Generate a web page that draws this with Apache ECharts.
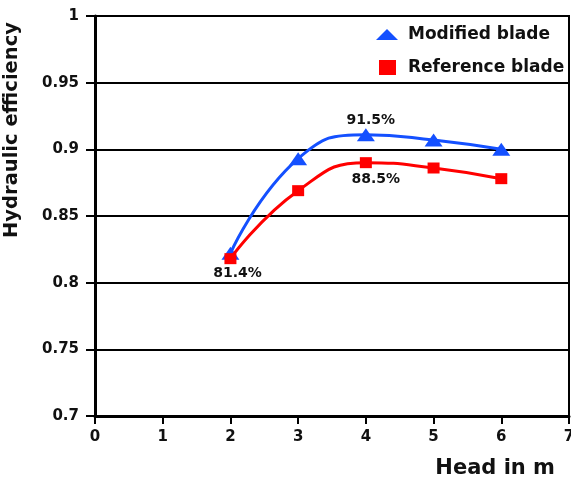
<!DOCTYPE html>
<html><head><meta charset="utf-8">
<script src="https://cdn.jsdelivr.net/npm/echarts@6/dist/echarts.min.js"></script>
<style>html,body{margin:0;padding:0;background:#fff}#c{width:571px;height:481px}</style>
</head><body><div id="c"></div>
<script>
var heads = [2, 3, 4, 5, 6];
var modified = [0.822, 0.893, 0.911, 0.907, 0.900];
var reference = [0.818, 0.869, 0.890, 0.886, 0.878];
var modifiedLabels = [null, null, '91.5%', null, null];
var referenceLabels = ['81.4%', null, '88.5%', null, null];

var FONT = 'DejaVu Sans';
var BLUE = '#1450ff', RED = '#ff0000';
var labelOpts = {
  modified: { 2: { position: 'top', distance: 1, offset: [5, 0] } },
  reference: { 0: { position: 'bottom', distance: 2, offset: [7, 0] },
               2: { position: 'bottom', distance: 4, offset: [10, 0] } }
};
var lblStyle = { fontFamily: FONT, fontWeight: 'bold', fontSize: 14, color: '#111' };
function build(vals, labels, opts) {
  return vals.map(function (v, i) {
    var d = { value: [heads[i], v] };
    if (labels[i]) {
      d.label = Object.assign({ show: true, formatter: labels[i] }, lblStyle, opts[i]);
    }
    return d;
  });
}
var legendText = { fontFamily: FONT, fontWeight: 'bold', fontSize: 17, color: '#111', padding: [0, 0, 0, 5] };

var chart = echarts.init(document.getElementById('c'));
chart.setOption({
  animation: false,
  grid: { left: 95, right: 2, top: 16, bottom: 65, show: true, borderColor: '#000', borderWidth: 2, outerBoundsMode: 'none', containLabel: false },
  xAxis: {
    type: 'value', min: 0, max: 7, interval: 1,
    axisLine: { lineStyle: { color: '#000', width: 3 } },
    axisTick: { show: true, length: 8, lineStyle: { color: '#000', width: 2 } },
    axisLabel: { fontFamily: FONT, fontWeight: 'bold', fontSize: 15, color: '#111', margin: 14 },
    splitLine: { show: false }
  },
  yAxis: {
    type: 'value', min: 0.7, max: 1, interval: 0.05,
    axisLine: { show: true, lineStyle: { color: '#000', width: 3 } },
    axisTick: { show: true, length: 9, lineStyle: { color: '#000', width: 2 } },
    axisLabel: { fontFamily: FONT, fontWeight: 'bold', fontSize: 15, color: '#111', margin: 16,
      formatter: function (v) { return String(+v.toFixed(2)); } },
    splitLine: { show: true, lineStyle: { color: '#000', width: 2 } }
  },
  legend: [{
    left: 376, top: 26, padding: 0, itemWidth: 22, itemHeight: 11,
    textStyle: legendText,
    data: [{ name: 'Modified blade', icon: 'triangle' }]
  }, {
    left: 379, top: 59, padding: 0, itemWidth: 17, itemHeight: 15,
    textStyle: Object.assign({}, legendText, { padding: [0, 0, 0, 7] }),
    data: [{ name: 'Reference blade', icon: 'rect' }]
  }],
  graphic: [{
    type: 'text', x: 12, y: 130, rotation: Math.PI / 2,
    style: { text: 'Hydraulic efficiency', font: 'bold 19.5px "DejaVu Sans"', fill: '#111',
      align: 'center', verticalAlign: 'middle', textAlign: 'center', textVerticalAlign: 'middle' }
  }, {
    type: 'text', x: 555, y: 469,
    style: { text: 'Head in m', font: 'bold 21px "DejaVu Sans"', fill: '#111',
      align: 'right', verticalAlign: 'middle', textAlign: 'right', textVerticalAlign: 'middle' }
  }],
  series: [
    {
      name: 'Modified blade', type: 'line', smooth: 0.5,
      data: build(modified, modifiedLabels, labelOpts.modified),
      symbol: 'triangle', symbolSize: [18, 13],
      itemStyle: { color: BLUE }, lineStyle: { color: BLUE, width: 3 }, z: 3
    },
    {
      name: 'Reference blade', type: 'line', smooth: 0.5,
      data: build(reference, referenceLabels, labelOpts.reference),
      symbol: 'rect', symbolSize: [12, 11],
      itemStyle: { color: RED }, lineStyle: { color: RED, width: 3 }, z: 4
    }
  ]
});
</script></body></html>
